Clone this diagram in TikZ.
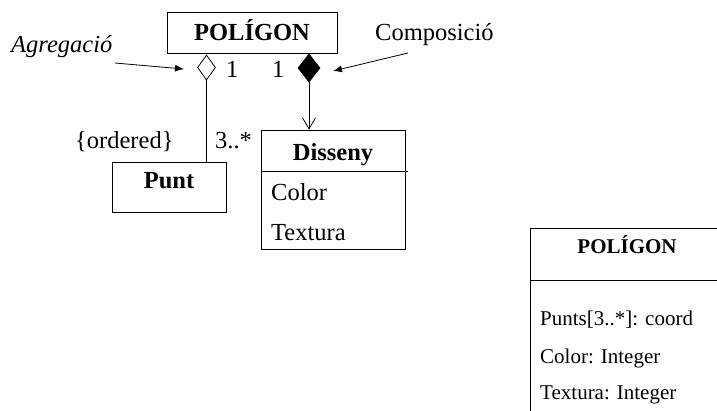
\documentclass[tikz,border=0pt]{standalone}
\usepackage{fontspec}
\setmainfont{Liberation Serif}
\usetikzlibrary{arrows.meta,shapes.geometric}
\begin{document}
\begin{tikzpicture}[x=1pt,y=-1pt,
  txt/.style={inner sep=0pt,font=\fontsize{24.5}{28}\selectfont},
  btxt/.style={inner sep=0pt,font=\fontsize{24.5}{28}\selectfont\bfseries},
  small/.style={inner sep=0pt,font=\fontsize{21}{25}\selectfont},
  classbox/.style={draw,line width=0.8pt,inner sep=0pt},
  rhomb/.style={diamond,draw,line width=0.8pt,inner sep=0pt},
  pointer/.style={line width=0.8pt,-{Latex[length=9pt,width=7pt]}},
  link/.style={line width=0.8pt}]
\clip (0,0) rectangle (717,410);
\fill[white] (0,0) rectangle (717,410);

% class POLIGON with its two associations
\node[classbox,minimum width=170pt,minimum height=41pt] (pol) at (252,32.5) {};
\node[btxt,anchor=base] (poltitle) at (252,40) {POLÍGON};

\node[rhomb,minimum width=18pt,minimum height=25pt] (agg) at (206.5,67.5) {};
\node[rhomb,fill=black,minimum width=22pt,minimum height=28pt] (comp) at (309,68) {};

\node[txt,anchor=base west] (m1) at (226,77) {1};
\node[txt,anchor=base west] (m2) at (272,77) {1};

% class Punt
\node[classbox,minimum width=114pt,minimum height=50pt] (punt) at (169,187) {};
\node[btxt,anchor=base] (punttitle) at (169,188) {Punt};

% class Disseny
\node[classbox,minimum width=144pt,minimum height=119pt] (dis) at (333,189.5) {};
\draw[link] (dis.west |- 0,171) -- (408,171);
\node[btxt,anchor=base] (distitle) at (333,160) {Disseny};
\node[txt,anchor=base west] (dcolor) at (271,200) {Color};
\node[txt,anchor=base west] (dtext) at (271,240) {Textura};

% association ends
\draw[link] (agg.south) -- (agg.south |- punt.north);
\draw[link,-{Straight Barb[length=11pt,width=13pt]}] (comp.south) -- (comp.south |- dis.north);
\node[txt,anchor=base west] (ord) at (75,148) {\{ordered\}};
\node[txt,anchor=base west] (mult) at (215,148) {3..*};

% explanatory labels
\node[txt,anchor=base west,font=\fontsize{24.5}{28}\selectfont\itshape] (lagg) at (11,52) {Agregació};
\node[txt,anchor=base west] (lcomp) at (375,40) {Composició};
\coordinate (aggfrom) at (115,63);
\coordinate (aggto) at (184,69);
\coordinate (compfrom) at (408,53);
\coordinate (compto) at (333,71);
\draw[pointer] (aggfrom) -- (aggto);
\draw[pointer] (compfrom) -- (compto);

% class POLIGON with attributes
\draw[link] (720,228) -- (530,228) -- (530,415);
\draw[link] (530,280) -- (720,280);
\node[small,anchor=base,font=\fontsize{21}{25}\selectfont\bfseries] (p2title) at (627,253) {POLÍGON};
\node[small,anchor=base west] (a1) at (540,325) {Punts[3..*]: coord};
\node[small,anchor=base west] (a2) at (540,363) {Color: Integer};
\node[small,anchor=base west] (a3) at (540,399) {Textura: Integer};
\end{tikzpicture}
\end{document}
